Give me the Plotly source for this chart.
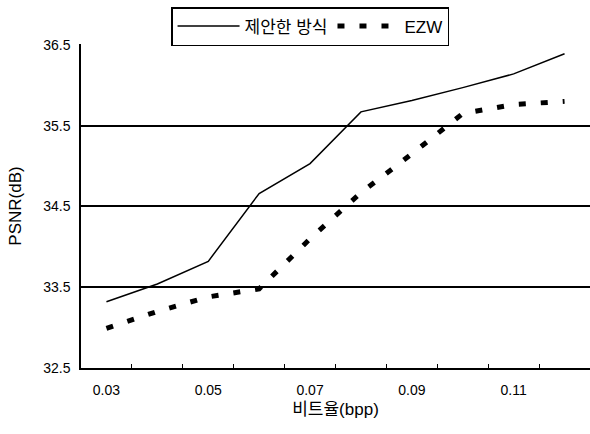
import plotly.graph_objects as go

categories = ["0.03", "0.04", "0.05", "0.06", "0.07", "0.08", "0.09", "0.10", "0.11", "0.12"]
proposed = [33.32, 33.54, 33.82, 34.66, 35.03, 35.67, 35.81, 35.97, 36.14, 36.39]
ezw = [32.99, 33.20, 33.38, 33.48, 34.10, 34.67, 35.15, 35.65, 35.76, 35.80]
tick_labels = ["0.03", "0.05", "0.07", "0.09", "0.11"]

idx = list(range(len(categories)))
font = "Liberation Sans, Arial, Noto Sans CJK KR, sans-serif"

fig = go.Figure()
fig.add_trace(go.Scatter(x=idx, y=proposed, mode="lines", name="제안한 방식",
                         line=dict(color="black", width=1.5)))
fig.add_trace(go.Scatter(x=idx, y=ezw, mode="lines", name="EZW",
                         line=dict(color="black", width=5, dash="7px,15px")))

fig.update_layout(
    width=590, height=434,
    margin=dict(l=81, r=0, t=44, b=66),
    paper_bgcolor="white", plot_bgcolor="white",
    font=dict(family=font, size=14, color="black"),
    showlegend=True,
    legend=dict(orientation="h", x=0.45, xanchor="center", y=1.114, yanchor="top",
                bordercolor="black", borderwidth=1.5, bgcolor="white",
                font=dict(size=17), itemwidth=62, tracegroupgap=0),
    xaxis=dict(range=[-0.5, len(categories) - 0.5], automargin=False,
               tickvals=[idx[categories.index(t)] for t in tick_labels],
               ticktext=tick_labels, ticks="", showgrid=False, zeroline=False,
               showline=True, linecolor="black", linewidth=1.5,
               ticklabelstandoff=8,
               title=dict(text="비트율(bpp)", standoff=7),
               minor=dict(tickvals=[i + 0.5 for i in idx[:-1]], ticks="inside",
                          ticklen=4, tickcolor="black", showgrid=False)),
    yaxis=dict(range=[32.5, 36.51], tick0=32.5, dtick=1, tickformat=".1f",
               automargin=False,
               showgrid=True, gridcolor="black", gridwidth=1.5, zeroline=False,
               showline=True, linecolor="black", linewidth=1.5, ticks="",
               ticklabelstandoff=6,
               title=dict(text="PSNR(dB)", standoff=17)),
)

fig.write_html("out.html", config={"displayModeBar": False},
               post_script="document.body.style.margin='0';document.body.style.overflow='hidden';")
